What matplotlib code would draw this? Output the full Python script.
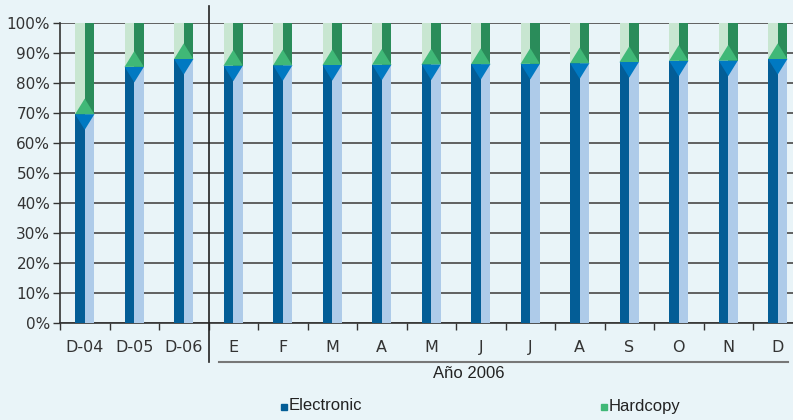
import matplotlib.pyplot as plt
from matplotlib.patches import Rectangle
import matplotlib.transforms as mtransforms

categories = ['D-04', 'D-05', 'D-06', 'E', 'F', 'M', 'A', 'M', 'J', 'J', 'A', 'S', 'O', 'N', 'D']
electronic = [69.6, 85.4, 88.0, 85.8, 85.9, 86.0, 86.1, 86.2, 86.3, 86.4, 86.6, 87.0, 87.4, 87.5, 88.0]
hardcopy = [100 - e for e in electronic]

bg = '#e9f4f8'
dark_blue, light_blue, mid_blue = '#035d96', '#aecbe9', '#0079c2'
light_green, dark_green, mid_green = '#c8e6d1', '#2a8c5a', '#40b877'

fig = plt.figure(figsize=(7.93, 4.20), dpi=100, facecolor=bg)
ax = fig.add_axes([60 / 793, 97 / 420, 733 / 793, 300 / 420])
ax.set_facecolor(bg)

w = 0.39
cap = 5.2
for i, e in enumerate(electronic):
    h = hardcopy[i]
    ax.bar(i - w / 4, e, w / 2, color=dark_blue, zorder=3)
    ax.bar(i + w / 4, e, w / 2, color=light_blue, zorder=3)
    ax.bar(i - w / 4, h, w / 2, bottom=e, color=light_green, zorder=3)
    ax.bar(i + w / 4, h, w / 2, bottom=e, color=dark_green, zorder=3)
    ax.fill([i - w / 2, i + w / 2, i], [e, e, e - cap], color=mid_blue, lw=0, zorder=4)
    ax.fill([i - w / 2, i + w / 2, i], [e, e, e + cap], color=mid_green, lw=0, zorder=4)

ax.set_yticks(range(0, 101, 10))
ax.set_yticklabels([f'{v}%' for v in range(0, 101, 10)])
ax.set_xticks([i - 0.5 for i in range(15)], minor=False)
ax.set_xticklabels([])
ax.set_xticks(range(len(categories)), minor=True)
ax.set_xticklabels(categories, minor=True)
# limits after the ticks, set_xticks would widen them otherwise
ax.set_xlim(-0.5, -0.5 + 733 / 49.5)
ax.set_ylim(0, 100)
ax.tick_params(axis='x', which='major', length=5, color='#333333', width=1)
ax.tick_params(axis='x', which='minor', length=0, pad=12, labelsize=11.5, labelcolor='#333333')
ax.tick_params(axis='y', length=5, color='#333333', width=1, pad=2, labelsize=11, labelcolor='#333333')
ax.yaxis.grid(True, color='#555555', lw=1.3, zorder=1)
ax.set_axisbelow(True)
for s in ['top', 'right']:
    ax.spines[s].set_visible(False)
for s in ['left', 'bottom']:
    ax.spines[s].set_color('#333333')
    ax.spines[s].set_linewidth(1.2)

# separator between years and months
ax.axvline(2.5, ymin=-0.13, ymax=1.057, color='#222222', lw=1.2, clip_on=False, zorder=5)
trans = mtransforms.blended_transform_factory(ax.transData, ax.transAxes)
ax.plot([2.72, 14.2], [-0.13, -0.13], color='#777777', lw=1.5, transform=trans, clip_on=False)
ax.text(7.75, -0.168, 'Año 2006', transform=trans, ha='center', va='center',
        fontsize=12, family='Liberation Sans', color='#222222')

# legend
for px, label, col in [(281, 'Electronic', dark_blue), (601, 'Hardcopy', mid_green)]:
    fig.add_artist(Rectangle((px / 793, (420 - 410) / 420), 6 / 793, 6 / 420,
                             transform=fig.transFigure, color=col))
    fig.text((px + 8) / 793, (420 - 406) / 420, label, ha='left', va='center',
             fontsize=12, family='Liberation Sans', color='#222222')

fig.savefig('out.png', dpi=100, facecolor=bg)
